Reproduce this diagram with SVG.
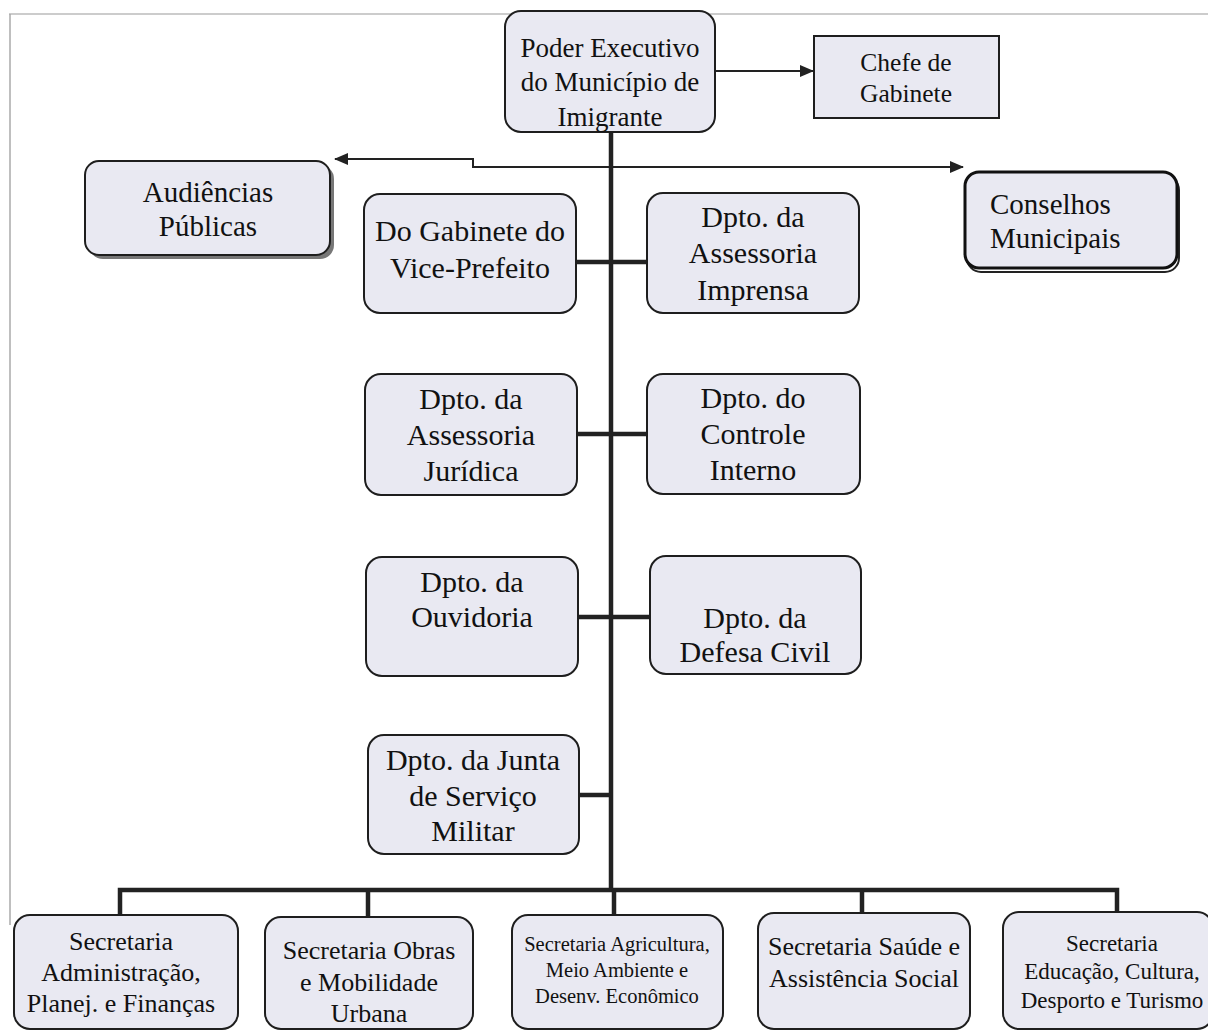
<svg xmlns="http://www.w3.org/2000/svg" width="1208" height="1031" viewBox="0 0 1208 1031">
<style>
.box{fill:#e9e9f2;stroke:#1e1e1e;stroke-width:2}
.t{font-family:"Liberation Serif","Times New Roman",serif;fill:#111;text-anchor:middle}
.ts{font-family:"Liberation Serif","Times New Roman",serif;fill:#111;text-anchor:start}
.thick{stroke:#222;stroke-width:4.5;fill:none}
.thin{stroke:#222;stroke-width:2;fill:none}
</style>
<defs>
<marker id="ahL" markerWidth="14" markerHeight="12" refX="13" refY="6" orient="auto" markerUnits="userSpaceOnUse" viewBox="0 0 14 12">
<path d="M0,0 L14,6 L0,12 z" fill="#222"/>
</marker>
<clipPath id="cp"><rect x="505" y="11" width="210" height="121" rx="16"/></clipPath>
</defs>
<rect width="1208" height="1031" fill="#fff"/>
<g id="frame">
<line x1="9" y1="14" x2="1208" y2="14" stroke="#bbb" stroke-width="1.5"/>
<line x1="10" y1="14" x2="10" y2="925" stroke="#aaa" stroke-width="1.5"/>
</g>
<g id="connectors">
<line class="thin" x1="715" y1="71" x2="813" y2="71" marker-end="url(#ahL)"/>
<polyline class="thin" points="611,167 473,167 473,159 335,159" marker-end="url(#ahL)"/>
<line class="thin" x1="611" y1="167" x2="963" y2="167" marker-end="url(#ahL)"/>
<line class="thick" x1="611" y1="132" x2="611" y2="890"/>
<line class="thick" x1="576" y1="262" x2="647" y2="262"/>
<line class="thick" x1="577" y1="434" x2="647" y2="434"/>
<line class="thick" x1="578" y1="617" x2="650" y2="617"/>
<line class="thick" x1="579" y1="795" x2="611" y2="795"/>
<polyline class="thick" points="120,915 120,890 1117,890 1117,913"/>
<line class="thick" x1="368" y1="890" x2="368" y2="917"/>
<line class="thick" x1="614" y1="890" x2="614" y2="915"/>
<line class="thick" x1="862" y1="890" x2="862" y2="913"/>
</g>
<g id="poder">
<rect class="box" x="505" y="11" width="210" height="121" rx="16"/>
<g clip-path="url(#cp)">
<text class="t" font-size="27" x="610" y="57">Poder Executivo</text>
<text class="t" font-size="27" x="610" y="91">do Município de</text>
<text class="t" font-size="27" x="610" y="126">Imigrante</text>
</g>
</g>
<g id="chefe">
<rect class="box" x="814" y="36" width="185" height="82"/>
<text class="t" font-size="25.5" x="906" y="71">Chefe de</text>
<text class="t" font-size="25.5" x="906" y="102">Gabinete</text>
</g>
<g id="audiencias">
<rect x="89" y="165" width="245" height="94" rx="14" fill="#777"/>
<rect class="box" x="85" y="161" width="245" height="94" rx="14"/>
<text class="t" font-size="29" x="208" y="202">Audiências</text>
<text class="t" font-size="29" x="208" y="236">Públicas</text>
</g>
<g id="conselhos">
<rect x="967" y="176" width="212" height="96" rx="14" fill="#fff" stroke="#222" stroke-width="2"/>
<rect x="965" y="172" width="212" height="96" rx="14" fill="#e9e9f2" stroke="#111" stroke-width="3"/>
<text class="ts" font-size="29" x="990" y="214">Conselhos</text>
<text class="ts" font-size="29" x="990" y="248">Municipais</text>
</g>
<g id="vice">
<rect class="box" x="364" y="194" width="212" height="119" rx="16"/>
<text class="t" font-size="30" x="470" y="241">Do Gabinete do</text>
<text class="t" font-size="30" x="470" y="278">Vice-Prefeito</text>
</g>
<g id="imprensa">
<rect class="box" x="647" y="193" width="212" height="120" rx="16"/>
<text class="t" font-size="30" x="753" y="227">Dpto. da</text>
<text class="t" font-size="30" x="753" y="263">Assessoria</text>
<text class="t" font-size="30" x="753" y="300">Imprensa</text>
</g>
<g id="juridica">
<rect class="box" x="365" y="374" width="212" height="121" rx="16"/>
<text class="t" font-size="30" x="471" y="409">Dpto. da</text>
<text class="t" font-size="30" x="471" y="445">Assessoria</text>
<text class="t" font-size="30" x="471" y="481">Jurídica</text>
</g>
<g id="controle">
<rect class="box" x="647" y="374" width="213" height="120" rx="16"/>
<text class="t" font-size="30" x="753" y="408">Dpto. do</text>
<text class="t" font-size="30" x="753" y="444">Controle</text>
<text class="t" font-size="30" x="753" y="480">Interno</text>
</g>
<g id="ouvidoria">
<rect class="box" x="366" y="557" width="212" height="119" rx="16"/>
<text class="t" font-size="30" x="472" y="592">Dpto. da</text>
<text class="t" font-size="30" x="472" y="627">Ouvidoria</text>
</g>
<g id="defesa">
<rect class="box" x="650" y="556" width="211" height="118" rx="16"/>
<text class="t" font-size="30" x="755" y="628">Dpto. da</text>
<text class="t" font-size="30" x="755" y="662">Defesa Civil</text>
</g>
<g id="junta">
<rect class="box" x="368" y="735" width="211" height="119" rx="16"/>
<text class="t" font-size="30" x="473" y="770">Dpto. da Junta</text>
<text class="t" font-size="30" x="473" y="806">de Serviço</text>
<text class="t" font-size="30" x="473" y="841">Militar</text>
</g>
<g id="sec-adm">
<rect class="box" x="14" y="915" width="224" height="114" rx="16"/>
<text class="t" font-size="26" x="121" y="950">Secretaria</text>
<text class="t" font-size="26" x="121" y="981">Administração,</text>
<text class="t" font-size="26" x="121" y="1012">Planej. e Finanças</text>
</g>
<g id="sec-obras">
<rect class="box" x="265" y="917" width="208" height="112" rx="16"/>
<text class="t" font-size="26" x="369" y="959">Secretaria Obras</text>
<text class="t" font-size="26" x="369" y="991">e Mobilidade</text>
<text class="t" font-size="26" x="369" y="1022">Urbana</text>
</g>
<g id="sec-agri">
<rect class="box" x="512" y="915" width="211" height="114" rx="16"/>
<text class="t" font-size="20.5" x="617" y="951">Secretaria Agricultura,</text>
<text class="t" font-size="20.5" x="617" y="977">Meio Ambiente e</text>
<text class="t" font-size="20.5" x="617" y="1003">Desenv. Econômico</text>
</g>
<g id="sec-saude">
<rect class="box" x="758" y="913" width="212" height="116" rx="16"/>
<text class="t" font-size="26" x="864" y="955">Secretaria Saúde e</text>
<text class="t" font-size="26" x="864" y="987">Assistência Social</text>
</g>
<g id="sec-edu">
<rect class="box" x="1003" y="912" width="210" height="117" rx="16"/>
<text class="t" font-size="23" x="1112" y="951">Secretaria</text>
<text class="t" font-size="23" x="1112" y="979">Educação, Cultura,</text>
<text class="t" font-size="23" x="1112" y="1008">Desporto e Turismo</text>
</g>
</svg>
